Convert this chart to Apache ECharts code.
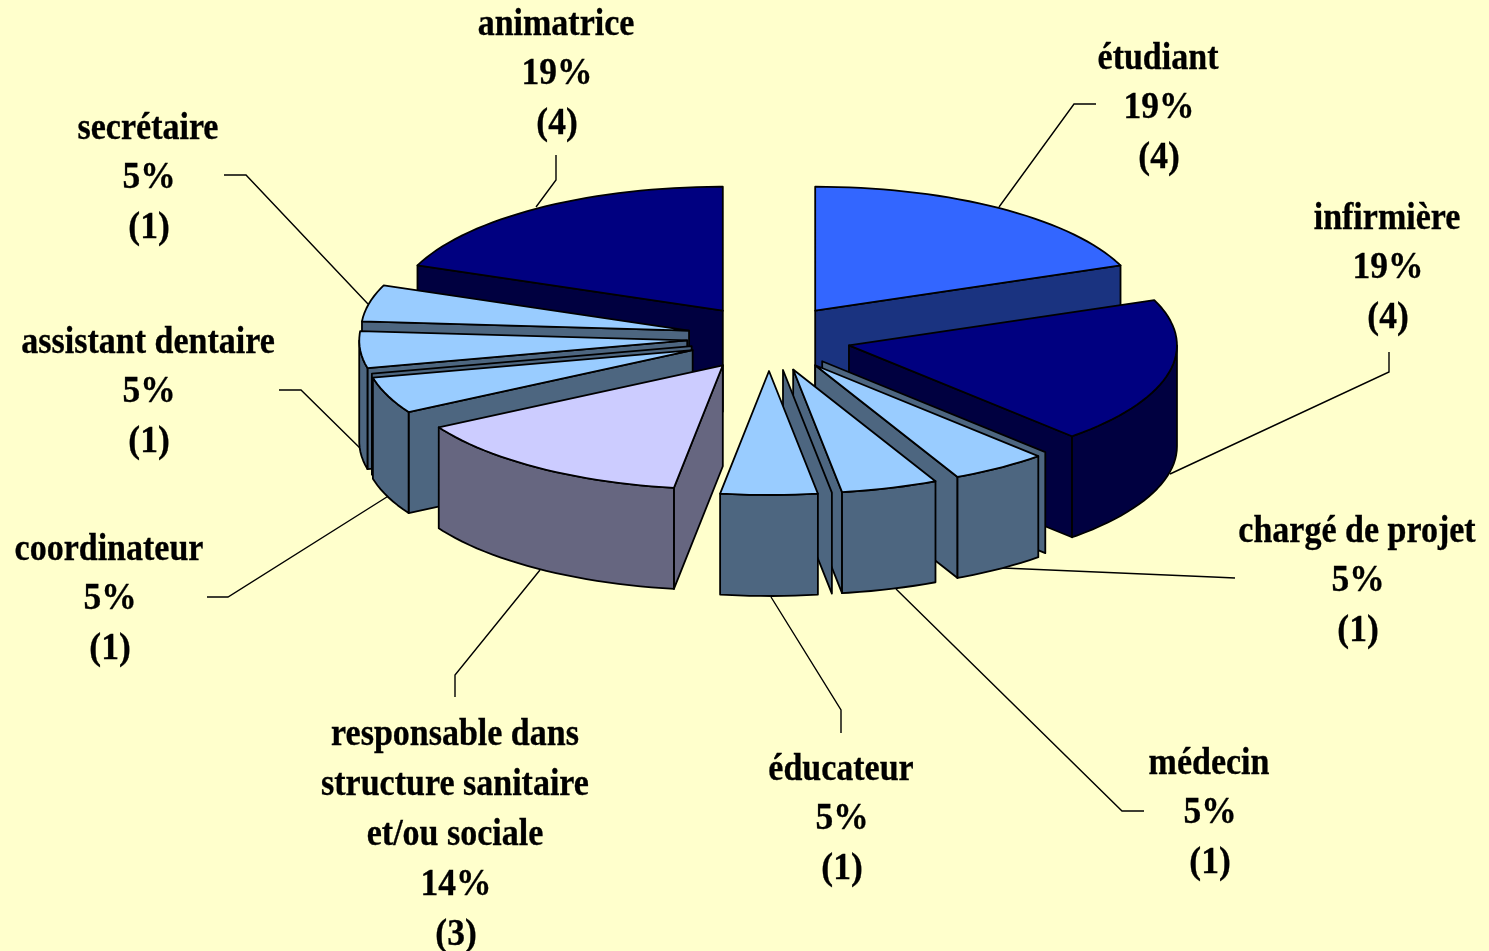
<!DOCTYPE html>
<html>
<head>
<meta charset="utf-8">
<style>html,body{margin:0;padding:0;background:#FFFFCC}#c{width:1489px;height:951px}</style>
<script src="https://cdn.jsdelivr.net/npm/echarts@6/dist/echarts.min.js"></script>
</head>
<body>
<div id="c"></div>
<script>
// ---- data (clockwise from 12 o'clock) ----
const categories = ['étudiant','infirmière','chargé de projet','médecin','éducateur',
  'responsable dans\nstructure sanitaire\net/ou sociale','coordinateur','assistant dentaire','secrétaire','animatrice'];
const counts = [4,4,1,1,1,3,1,1,1,4];

// ---- styles ----
const topColors  = ['#3366FF','#000080','#99CCFF','#99CCFF','#99CCFF','#CCCCFF','#99CCFF','#99CCFF','#99CCFF','#000080'];
const sideColors = ['#1A3380','#000040','#4D6680','#4D6680','#4D6680','#666680','#4D6680','#4D6680','#4D6680','#000040'];

// ---- layout ----
const pie = {cx:769, cy:338, rx:328, ry:124, depth:101, ex:82, ey:33};
const drawOrder = [0,9,8,7,1,6,2,5,3,4];
// small offset of the hidden cut face that peeks out in the original's perspective view
const peek = {2:[7,-4], 4:[14,-1], 6:[-1,-4]};
const labelCenters = [[1158,57],[1387,217],[1357,530],[1209,762],[841,768],[455,733],[109,548],[148,341],[148,127],[556,23]];
const leaders = [
 [[1096,104],[1074,104],[999,207]],
 [[1389,352],[1389,372],[1170,474]],
 [[1235,578],[1213,577],[1003,568]],
 [[1144,811],[1122,811],[896,589]],
 [[841,733],[841,710],[771,597]],
 [[455,697],[455,675],[540,570]],
 [[207,597],[228,597],[390,495]],
 [[279,390],[301,390],[364,452]],
 [[224,175],[246,175],[368,304]],
 [[556,155],[556,180],[536,207]]
];
const LINE_H = 50.2;

const total = counts.reduce((a,b)=>a+b,0);
const starts = []; counts.reduce((acc,v,i)=>{starts[i]=acc; return acc+v;},0);
const rad = d => d*Math.PI/180;

function renderSlice(params, api){
  const i = api.value(0), v = api.value(1);
  const t0 = starts[i]/total*360, t1 = (starts[i]+v)/total*360, mid = (t0+t1)/2;
  const ax = pie.cx + pie.ex*Math.sin(rad(mid));
  const ay = pie.cy - pie.ey*Math.cos(rad(mid));
  const rim = t => [ax + pie.rx*Math.sin(rad(t)), ay - pie.ry*Math.cos(rad(t))];
  const down = p => [p[0], p[1]+pie.depth];
  const stroke = {stroke:'#000', lineWidth:1.8, lineJoin:'round'};
  const poly = (pts, fill) => ({type:'polygon', shape:{points:pts}, style:Object.assign({fill}, stroke)});
  const wall = (A,B,fill) => poly([A,B,down(B),down(A)], fill);
  const kids = [];
  const A = [ax,ay];
  if (peek[i]) {
    const [dx,dy] = peek[i];
    const shift = p => [p[0]+dx,p[1]+dy];
    const edge = i===6 ? t1 : t0;
    kids.push(wall(shift(A), shift(rim(edge)), sideColors[i]));
  }
  if (Math.sin(rad(t0)) < -1e-6) kids.push(wall(A, rim(t0), sideColors[i]));
  if (Math.sin(rad(t1)) >  1e-6) kids.push(wall(A, rim(t1), sideColors[i]));
  const a = Math.max(t0,90), b = Math.min(t1,270);
  if (a < b) {
    const arc = [];
    for (let t=a; t<b; t+=2) arc.push(rim(t));
    arc.push(rim(b));
    kids.push(poly(arc.concat(arc.slice().reverse().map(down)), sideColors[i]));
  }
  const top = [A];
  for (let t=t0; t<t1; t+=2) top.push(rim(t));
  top.push(rim(t1));
  kids.push(poly(top, topColors[i]));
  return {type:'group', children:kids};
}

function renderLabel(params, api){
  const i = api.value(0), v = api.value(1);
  const names = categories[i].split('\n');
  const lines = names.concat([Math.round(v/total*100)+'%','('+v+')']);
  const c = labelCenters[i];
  const kids = lines.map((s,k)=>{
    const isName = k < names.length;
    return {
      type:'text',
      x:c[0]+(isName?0:1), y:c[1]+k*LINE_H+(isName?2:1),
      scaleY:isName?1.12:1.08,
      style:{text:s, x:0, y:0, textAlign:'center', textVerticalAlign:'middle',
        font:'bold '+(isName?34:35.5)+'px "Liberation Serif", "Times New Roman", serif',
        fill:'#000', stroke:'#000', lineWidth:0.3}
    };
  });
  kids.push({type:'polyline', shape:{points:leaders[i]}, style:{stroke:'#000', lineWidth:1.4, fill:null}});
  return {type:'group', children:kids};
}

const chart = echarts.init(document.getElementById('c'), null, {renderer:'canvas'});
chart.setOption({
  backgroundColor:'#FFFFCC',
  animation:false,
  tooltip:{show:false},
  series:[
    {type:'custom', name:'parts', coordinateSystem:'none', silent:true, z:2,
     data:drawOrder.map(i=>[i,counts[i]]), renderItem:renderSlice},
    {type:'custom', name:'labels', coordinateSystem:'none', silent:true, z:1,
     data:counts.map((v,i)=>[i,v]), renderItem:renderLabel}
  ]
});
</script>
</body>
</html>
